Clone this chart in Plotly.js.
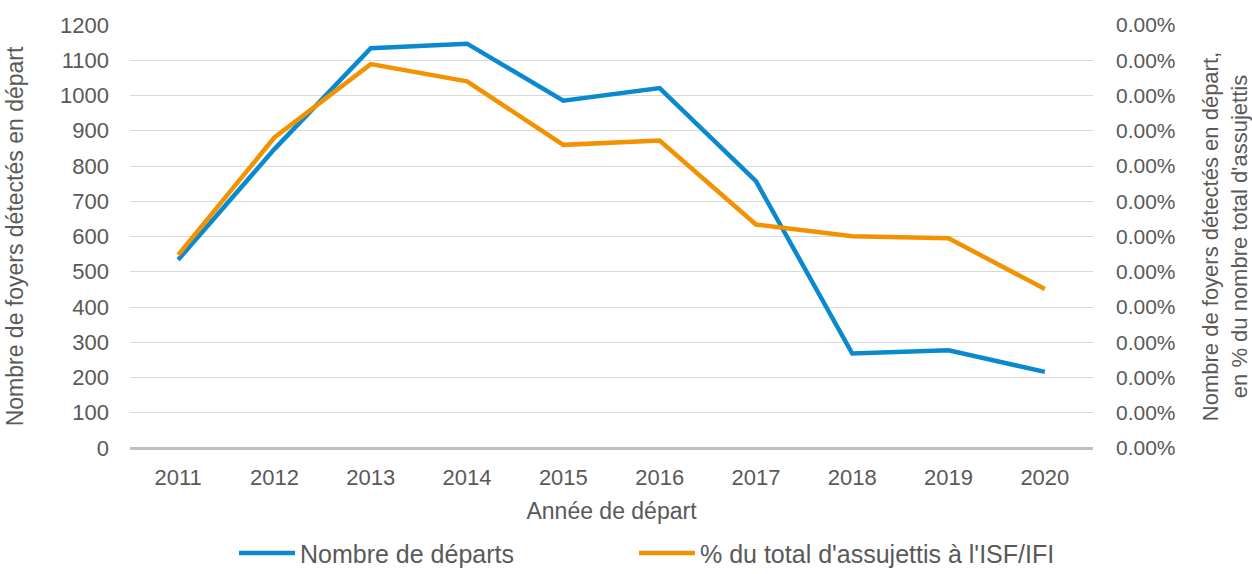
<!DOCTYPE html>
<html>
<head>
<meta charset="utf-8">
<script src="https://cdn.plot.ly/plotly-3.0.1.min.js"></script>
<style>html,body{margin:0;padding:0;background:#fff;}#chart{width:1252px;height:574px;}</style>
</head>
<body>
<div id="chart"></div>
<script>
const years = ['2011','2012','2013','2014','2015','2016','2017','2018','2019','2020'];
const departs = [534, 848, 1134, 1147, 985, 1021, 757, 268, 277, 216];
const partIsf = [0.00000548, 0.00000881, 0.00001089, 0.00001040, 0.00000860, 0.00000872, 0.00000634, 0.00000601, 0.00000595, 0.00000451];
const seriesNames = ['Nombre de départs', "% du total d'assujettis à l'ISF/IFI"];

const FONT = 'Liberation Sans, Arial, sans-serif';
const GREY = '#595959';

const traces = [
  {x: years, y: departs, name: seriesNames[0], type: 'scatter', mode: 'lines',
   line: {color: '#0a89cf', width: 4.5}, yaxis: 'y', legend: 'legend'},
  {x: years, y: partIsf, name: seriesNames[1], type: 'scatter', mode: 'lines',
   line: {color: '#f39200', width: 4.5}, yaxis: 'y2', legend: 'legend2'}
];

const legendBase = {orientation: 'h', xref: 'container', xanchor: 'left',
                    yref: 'container', y: 0.036, yanchor: 'middle',
                    font: {size: 25, color: GREY}, itemwidth: 56, bgcolor: 'rgba(0,0,0,0)'};

const layout = {
  width: 1252, height: 574,
  margin: {l: 130, r: 159, t: 25, b: 126, autoexpand: false},
  paper_bgcolor: '#fff', plot_bgcolor: '#fff',
  font: {family: FONT, color: GREY, size: 22},
  showlegend: true,
  legend: Object.assign({}, legendBase, {x: 234 / 1252}),
  legend2: Object.assign({}, legendBase, {x: 634 / 1252}),
  xaxis: {type: 'category', range: [-0.5, 9.5], showgrid: false, zeroline: false, automargin: false,
          showline: false, ticks: '', ticklabelstandoff: 14, tickfont: {size: 22, color: GREY},
          title: {text: 'Année de départ', font: {size: 23, color: GREY}, standoff: 13}},
  yaxis: {range: [0, 1200], dtick: 100, showgrid: true, gridcolor: '#d9d9d9', gridwidth: 1, automargin: false,
          zeroline: true, zerolinecolor: '#bfbfbf', zerolinewidth: 3, showline: false, ticks: '',
          ticklabelstandoff: 20, tickfont: {size: 22, color: GREY},
          title: {text: 'Nombre de foyers détectés en départ', font: {size: 23, color: GREY}, standoff: 29}},
  yaxis2: {overlaying: 'y', side: 'right', range: [0, 0.000012], dtick: 0.000001, tickformat: '.2%', automargin: false,
           showgrid: false, zeroline: false, showline: false, ticks: '', ticklabelstandoff: 22,
           tickfont: {size: 21, color: GREY},
           title: {text: "Nombre de foyers détectés en départ,<br>en % du nombre total d'assujettis",
                   font: {size: 22, color: GREY}, standoff: 30}}
};

Plotly.newPlot('chart', traces, layout, {displayModeBar: false, staticPlot: true});
</script>
</body>
</html>
